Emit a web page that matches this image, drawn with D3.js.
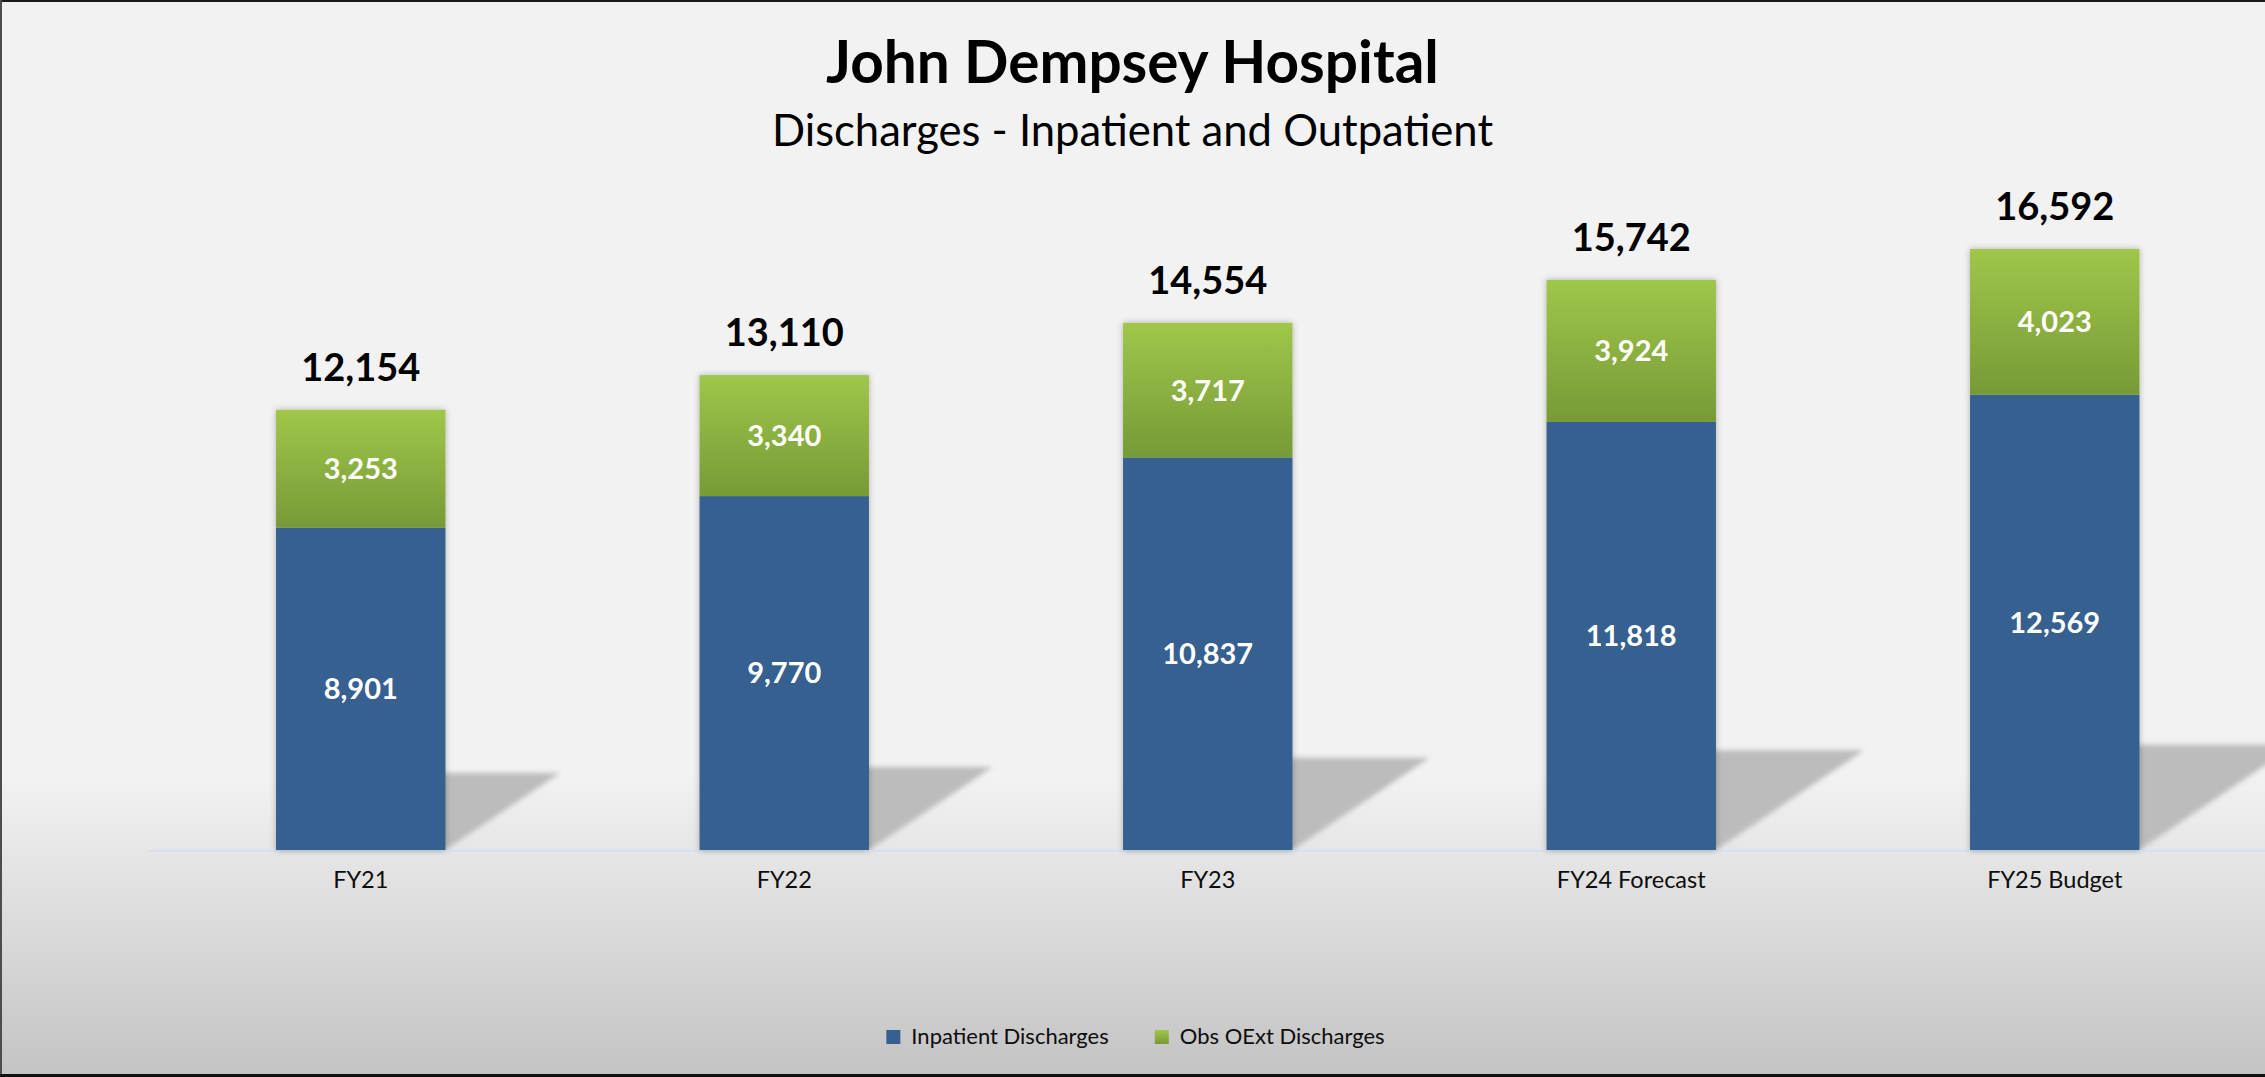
<!DOCTYPE html>
<html>
<head>
<meta charset="utf-8">
<script src="https://cdn.jsdelivr.net/npm/d3@7"></script>
<style>
  html, body { margin: 0; padding: 0; background: #f2f2f2; overflow: hidden; }
  svg { display: block; }
  text { font-family: Lato, "Noto Sans", sans-serif; }
</style>
</head>
<body>
<svg id="chart" width="2265" height="1077"></svg>
<script>
// ---- data ----
const categories = ["FY21", "FY22", "FY23", "FY24 Forecast", "FY25 Budget"];
const inpatient = [8901, 9770, 10837, 11818, 12569];
const obsOExt = [3253, 3340, 3717, 3924, 4023];
const totals = [12154, 13110, 14554, 15742, 16592];
const seriesNames = ["Inpatient Discharges", "Obs OExt Discharges"];
const titleText = "John Dempsey Hospital";
const subtitleText = "Discharges - Inpatient and Outpatient";

// ---- layout ----
const W = 2265, H = 1077;
const baseY = 850;
const svg = d3.select("#chart");
const defs = svg.append("defs");

// background gradient
const bg = defs.append("linearGradient").attr("id", "bgGrad")
  .attr("gradientUnits", "userSpaceOnUse").attr("x1", 0).attr("y1", 0).attr("x2", 0).attr("y2", H);
bg.append("stop").attr("offset", 0).attr("stop-color", "#f2f2f2");
bg.append("stop").attr("offset", 775 / H).attr("stop-color", "#f2f2f2");
bg.append("stop").attr("offset", 1).attr("stop-color", "#c3c3c3");

const gGrad = defs.append("linearGradient").attr("id", "greenGrad")
  .attr("x1", 0).attr("y1", 0).attr("x2", 0).attr("y2", 1);
gGrad.append("stop").attr("offset", 0).attr("stop-color", "#a0c64b");
gGrad.append("stop").attr("offset", 1).attr("stop-color", "#779a36");

const blur = defs.append("filter").attr("id", "shBlur")
  .attr("x", "-20%").attr("y", "-20%").attr("width", "140%").attr("height", "140%");
blur.append("feGaussianBlur").attr("stdDeviation", 2.5);

const drop = defs.append("filter").attr("id", "barShadow")
  .attr("x", "-10%").attr("y", "-10%").attr("width", "120%").attr("height", "120%");
drop.append("feDropShadow").attr("dx", 0).attr("dy", 0).attr("stdDeviation", 3)
  .attr("flood-color", "#000").attr("flood-opacity", 0.28);

svg.append("rect").attr("x", 0).attr("y", 0).attr("width", W).attr("height", H).attr("fill", "url(#bgGrad)");

// scales
const x = d3.scaleBand().domain(categories).range([149, 2266.5]).paddingInner(0.6).paddingOuter(0.3);
const y = d3.scaleLinear().domain([0, 18000]).range([baseY, 198]);
const color = d3.scaleOrdinal().domain(seriesNames).range(["#36608f", "url(#greenGrad)"]);

const rows = categories.map((c, i) => ({ cat: c, inpatient: inpatient[i], obs: obsOExt[i], total: totals[i] }));
const stack = d3.stack().keys(["inpatient", "obs"])(rows);

// floor shadows (projected parallelograms)
const shadowG = svg.append("g").attr("filter", "url(#shBlur)");
shadowG.selectAll("path").data(rows).join("path")
  .attr("d", d => {
    const x0 = x(d.cat), x1 = x0 + x.bandwidth();
    const h = baseY - y(d.inpatient + d.obs);
    const dx = 0.26 * h, dy = 0.175 * h;
    return `M${x0},${baseY}L${x1},${baseY}L${x1 + dx},${baseY - dy}L${x0 + dx},${baseY - dy}Z`;
  })
  .attr("fill", "#bcbcbc");

// axis line
svg.append("line").attr("x1", 149).attr("x2", W).attr("y1", baseY + 1).attr("y2", baseY + 1)
  .attr("stroke", "#d5e1ef").attr("stroke-width", 2);

// bars
const barsG = svg.append("g").attr("filter", "url(#barShadow)");
stack.forEach((layer, li) => {
  barsG.selectAll(null).data(layer).join("rect")
    .attr("x", d => x(d.data.cat))
    .attr("width", x.bandwidth())
    .attr("y", d => y(d[1]))
    .attr("height", d => y(d[0]) - y(d[1]))
    .attr("fill", color(seriesNames[li]));
});

// segment labels
stack.forEach((layer) => {
  svg.append("g").selectAll("text").data(layer).join("text")
    .attr("x", d => x(d.data.cat) + x.bandwidth() / 2)
    .attr("y", d => (y(d[0]) + y(d[1])) / 2)
    .attr("dy", "0.36em")
    .attr("text-anchor", "middle")
    .attr("fill", "#ffffff")
    .attr("font-weight", 700)
    .attr("font-size", 29)
    .text(d => d3.format(",")(d[1] - d[0]));
});

// total labels
svg.append("g").selectAll("text").data(rows).join("text")
  .attr("x", d => x(d.cat) + x.bandwidth() / 2)
  .attr("y", d => y(d.total) - 29)
  .attr("text-anchor", "middle")
  .attr("fill", "#000")
  .attr("font-weight", 700)
  .attr("font-size", 38)
  .text(d => d3.format(",")(d.total));

// x axis labels
const xAxis = d3.axisBottom(x).tickSize(0).tickPadding(0);
const axG = svg.append("g").attr("transform", `translate(0,${baseY})`).call(xAxis);
axG.select(".domain").remove();
axG.selectAll("text")
  .attr("y", 38).attr("dy", 0)
  .attr("fill", "#0d0d0d")
  .attr("font-size", 23.5)
  .attr("font-family", "Lato, 'Noto Sans', sans-serif");

// title
svg.append("text").attr("x", W / 2).attr("y", 83).attr("text-anchor", "middle")
  .attr("font-weight", 700).attr("font-size", 58.5).attr("fill", "#000").text(titleText);
svg.append("text").attr("x", W / 2).attr("y", 146).attr("text-anchor", "middle")
  .attr("font-weight", 400).attr("font-size", 43.6).attr("fill", "#000").text(subtitleText);

// legend
const legG = svg.append("g");
const items = legG.selectAll("g").data(seriesNames).join("g");
items.append("rect").attr("width", 14).attr("height", 14).attr("y", -14)
  .attr("fill", d => color(d));
items.append("text").attr("x", 25).attr("y", 0).attr("font-size", 22).attr("fill", "#0d0d0d").text(d => d);
let cx = 0;
items.each(function () {
  const w = 25 + this.querySelector("text").getComputedTextLength();
  d3.select(this).attr("transform", `translate(${cx},0)`);
  cx += w + 46;
});
const legW = cx - 46;
legG.attr("transform", `translate(${W / 2 - legW / 2 + 3},1044)`);

// border
svg.append("rect").attr("x", 0).attr("y", 0).attr("width", W).attr("height", 2).attr("fill", "#1a1a1a");
svg.append("rect").attr("x", 0).attr("y", 0).attr("width", 2).attr("height", H).attr("fill", "#4d4d4d");
svg.append("rect").attr("x", 0).attr("y", H - 3).attr("width", W).attr("height", 3).attr("fill", "#111");
</script>
</body>
</html>
